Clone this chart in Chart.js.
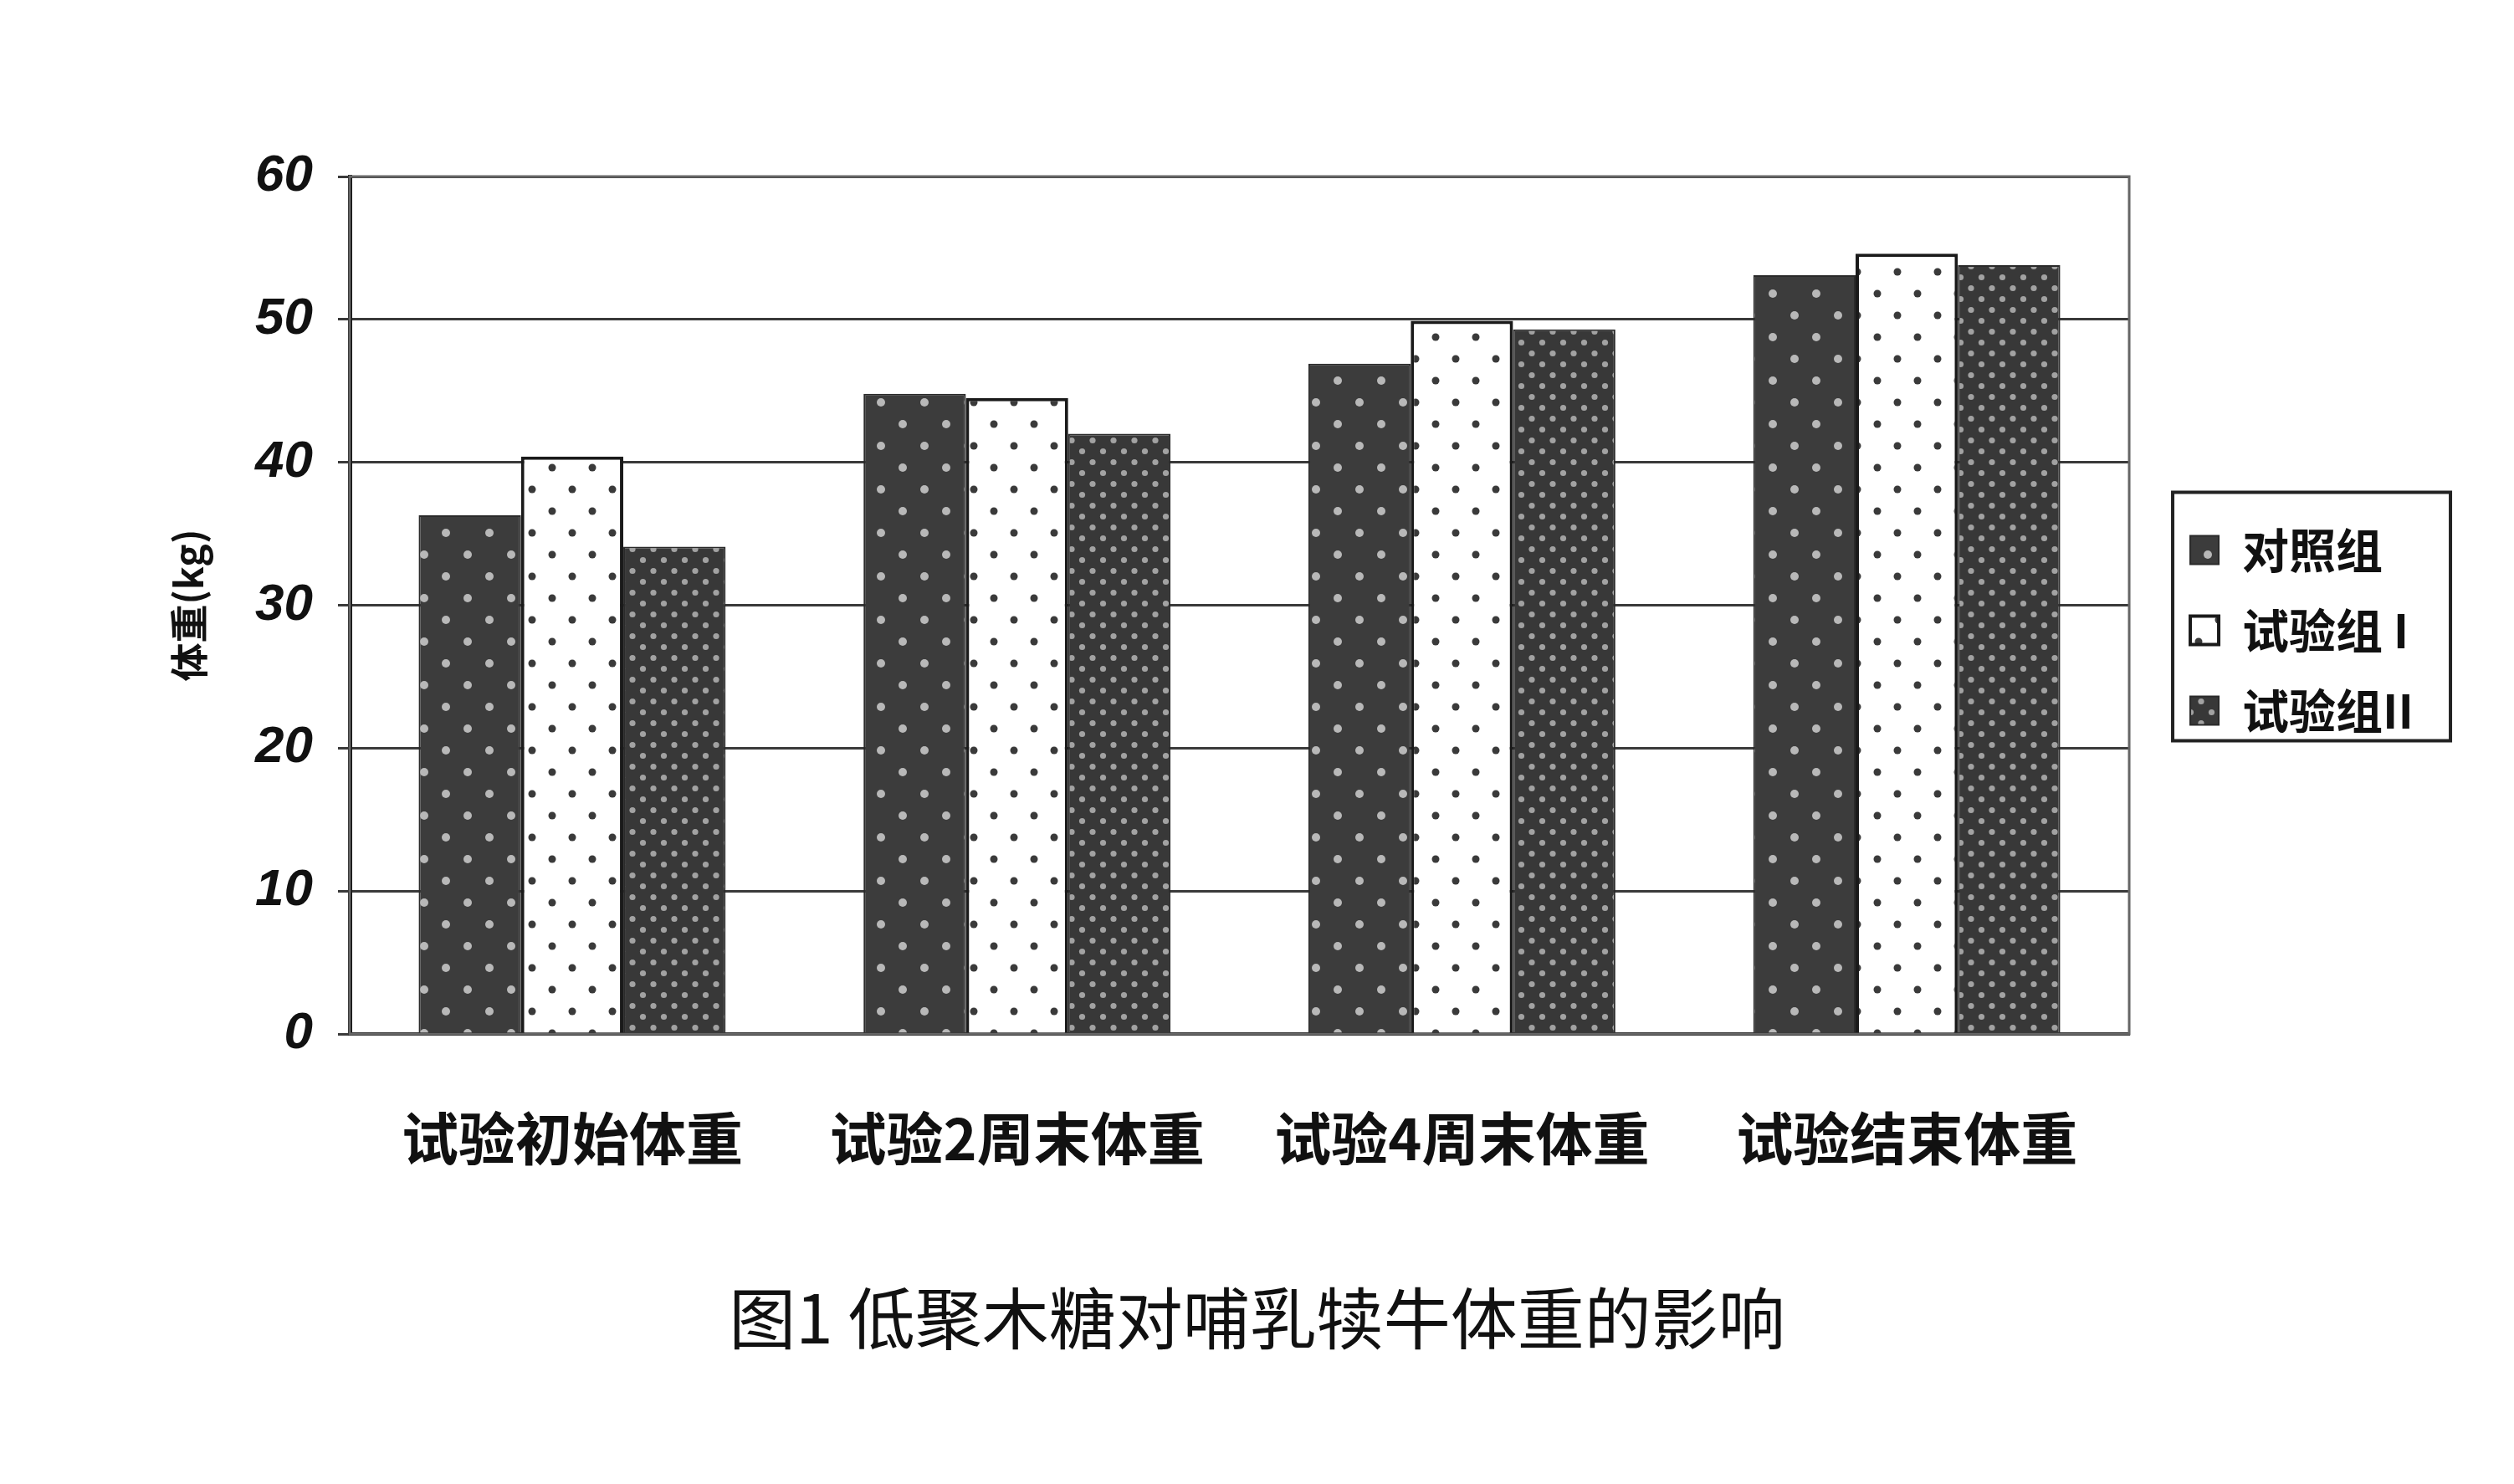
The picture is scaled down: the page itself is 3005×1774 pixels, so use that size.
<!DOCTYPE html>
<html>
<head>
<meta charset="utf-8">
<script src="https://cdn.jsdelivr.net/npm/chart.js@4.4.1/dist/chart.umd.min.js"></script>
<style>
  html, body { margin: 0; padding: 0; background: #fff; }
  #wrap { position: relative; width: 3005px; height: 1774px; }
  #chart { position: absolute; left: 0; top: 0; }
  #caption {
    position: absolute; left: 0; top: 1521px; width: 3005px; height: 100px;
    line-height: 100px; text-align: center; padding-left: 0;
    font-family: "Noto Sans CJK SC", sans-serif; font-size: 80px; font-weight: 400; color: #111;
  }
</style>
</head>
<body>
<div id="wrap">
  <canvas id="chart" width="3005" height="1774"></canvas>
  <div id="caption">图1 低聚木糖对哺乳犊牛体重的影响</div>
</div>
<script>
// ===== Data =====
const categories = ['试验初始体重', '试验2周末体重', '试验4周末体重', '试验结束体重'];
const seriesNames = ['对照组', '试验组 I', '试验组II'];
const controlValues = [36.3, 44.8, 46.9, 53.1];
const trialOneValues = [40.4, 44.5, 49.9, 54.6];
const trialTwoValues = [34.1, 42.0, 49.3, 53.8];
const yTicks = [0, 10, 20, 30, 40, 50, 60];

// dotted fills like the printed figure
function makePattern(bg, fg, w, h, r, dots) {
  const c = document.createElement('canvas');
  c.width = w; c.height = h;
  const g = c.getContext('2d');
  g.fillStyle = bg;
  g.fillRect(0, 0, w, h);
  g.fillStyle = fg;
  dots.forEach(([x, y]) => {
    g.beginPath();
    g.arc(x, y, r, 0, Math.PI * 2);
    g.fill();
  });
  return g.createPattern(c, 'repeat');
}

const controlFill = makePattern('#3c3c3c', '#b8b8b8', 52, 52, 5, [[13, 13], [39, 39]]);
const trialOneFill = makePattern('#ffffff', '#3a3a3a', 48, 52, 4.5, [[12, 13], [36, 39]]);
const trialTwoFill = makePattern('#383838', '#a2a2a2', 25, 26, 3.6, [[6, 6.5], [18.5, 19.5]]);

const legendPad = 40;

// ===== Plugins =====
const frame = {
  id: 'frame',
  beforeDatasetsDraw(chart) {
    const { ctx, chartArea: a } = chart;
    ctx.save();
    ctx.strokeStyle = '#666';
    ctx.lineWidth = 3;
    ctx.strokeRect(a.left, a.top, a.right - a.left, a.bottom - a.top);
    ctx.restore();
  }
};

const legendNudge = {
  id: 'legendNudge',
  afterLayout(chart) {
    const lg = chart.legend;
    lg.left += 33; lg.right += 33;
    lg.top -= 95; lg.bottom -= 95;
  },
  afterDraw(chart) {
    const lg = chart.legend;
    const colH = lg.columnSizes[0].height;
    const itemsTop = ((lg.top + legendPad) + (lg.bottom - colH)) / 2;
    const itemsLeft = lg.left + legendPad;
    const ctx = chart.ctx;
    ctx.save();
    ctx.strokeStyle = '#222';
    ctx.lineWidth = 4;
    ctx.strokeRect(itemsLeft - 21, itemsTop - 41, 332, 297);
    ctx.restore();
  }
};

new Chart(document.getElementById('chart'), {
  type: 'bar',
  data: {
    labels: categories,
    datasets: [
      { label: seriesNames[0], data: controlValues, backgroundColor: controlFill, borderColor: '#2a2a2a', borderWidth: 2 },
      { label: seriesNames[1], data: trialOneValues, backgroundColor: trialOneFill, borderColor: '#1a1a1a', borderWidth: 4 },
      { label: seriesNames[2], data: trialTwoValues, backgroundColor: trialTwoFill, borderColor: '#2a2a2a', borderWidth: 2 }
    ]
  },
  options: {
    responsive: false,
    animation: false,
    layout: { padding: { left: 0, top: 211, right: 143, bottom: 288 } },
    datasets: { bar: { categoryPercentage: 0.69, barPercentage: 1 } },
    plugins: {
      legend: {
        position: 'right',
        labels: {
          boxWidth: 34, boxHeight: 34, padding: legendPad, color: '#111',
          font: { family: 'Noto Sans CJK SC', size: 56, weight: 'bold' }
        }
      },
      tooltip: { enabled: false }
    },
    scales: {
      x: {
        grid: { display: false },
        border: { display: true, color: '#111', width: 4 },
        ticks: {
          padding: 76, color: '#111',
          font: { family: 'Noto Sans CJK SC', size: 68, weight: 'bold' }
        },
        afterFit(scale) { scale.height = 250; }
      },
      y: {
        min: 0, max: 60,
        afterBuildTicks(scale) { scale.ticks = yTicks.map(v => ({ value: v })); },
        grid: { color: '#3a3a3a', lineWidth: 3, tickLength: 14 },
        border: { display: true, color: '#111', width: 5 },
        ticks: {
          padding: 30, color: '#111',
          font: { family: 'Liberation Sans', size: 62, weight: 'bold', style: 'italic' }
        },
        title: {
          display: true, text: '体重(kg)', color: '#111',
          font: { family: 'Noto Sans CJK SC', size: 46, weight: 'bold' },
          padding: { top: 198, bottom: 0 }
        },
        afterFit(scale) { scale.width = 418; }
      }
    }
  },
  plugins: [frame, legendNudge]
});
</script>
</body>
</html>
